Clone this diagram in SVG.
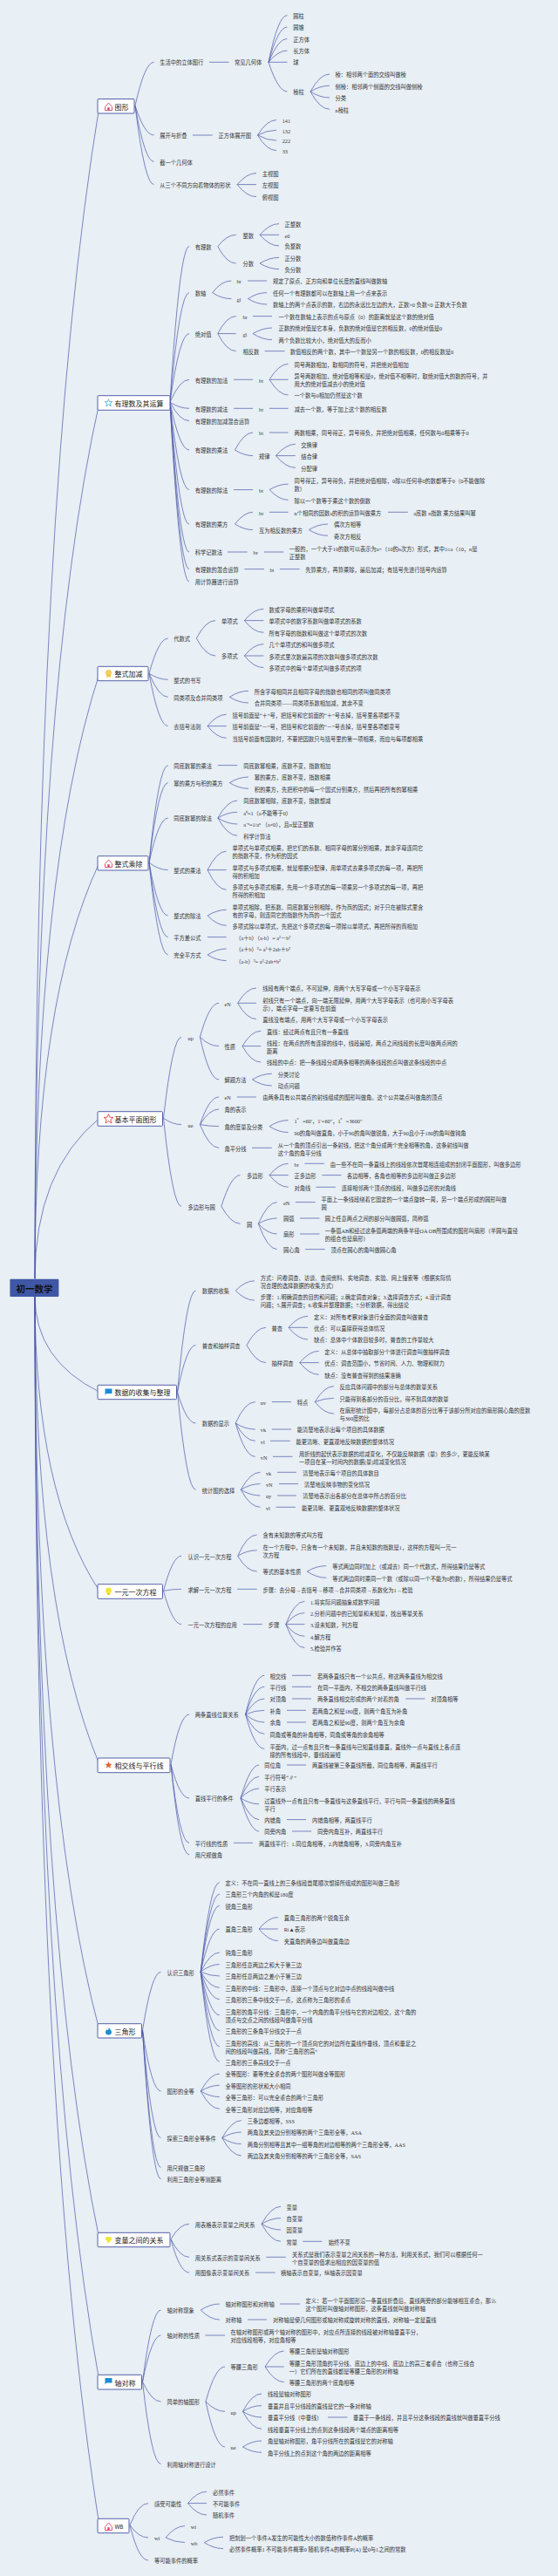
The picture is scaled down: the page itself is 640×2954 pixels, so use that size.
<svg xmlns="http://www.w3.org/2000/svg" width="640" height="2954" viewBox="0 0 640 2954">
<style>
text{font-family:"Liberation Serif","Noto Sans CJK SC",sans-serif;font-size:6.25px;fill:#333;dominant-baseline:central}
.c path{fill:none;stroke:#4a58a8;stroke-width:.7}
.b rect{fill:#fff;stroke:#5560a8;stroke-width:1}
.b text{font-family:"Noto Sans CJK SC",sans-serif;font-size:8px;fill:#222}
#root rect{fill:#3f57a5}
#root text{font-family:"Noto Sans CJK SC",sans-serif;font-size:10.5px;font-weight:700;fill:#111;text-anchor:middle}
</style>
<defs>
<g id="i-house"><path d="M-4 0.5L0-4 4 0.5V4.5H-4Z" fill="#fff" stroke="#d8456b" stroke-width=".9"/><rect x="-1.2" y="1.2" width="2.4" height="3.2" fill="#d8456b"/></g>
<g id="i-star"><polygon points="0,-4.2 1.2,-1.3 4.2,-1.3 1.8,.7 2.7,3.8 0,2 -2.7,3.8 -1.8,.7 -4.2,-1.3 -1.2,-1.3" fill="#fff" stroke="#3aa5d8" stroke-width=".8"/></g>
<g id="i-star2"><polygon points="0,-5.5 1.6,-1.7 5.5,-1.7 2.4,.9 3.5,5 0,2.6 -3.5,5 -2.4,.9 -5.5,-1.7 -1.6,-1.7" fill="#fff" stroke="#e0483e" stroke-width=".9"/></g>
<g id="i-star3"><polygon points="0,-4.2 1.2,-1.3 4.2,-1.3 1.8,.7 2.7,3.8 0,2 -2.7,3.8 -1.8,.7 -4.2,-1.3 -1.2,-1.3" fill="#e0622e"/></g>
<g id="i-ribbon"><path d="M-2 1L-2.5 4.5 0 3.2 2.5 4.5 2 1Z" fill="#f4c430"/><circle cy="-1" r="3" fill="#f8d060" stroke="#eeb020" stroke-width=".7"/></g>
<g id="i-flag"><path d="M-4-4H4V1.5H-2.5L-4 3.5Z" fill="#1a8cd8"/></g>
<g id="i-bulb"><circle cy="-1" r="3.4" fill="#f2e63a"/><rect x="-1.6" y="2" width="3.2" height="2" fill="#e0d030"/></g>
<g id="i-flame"><path d="M.5-4.5C1 -2 3.5-1 3.5 1.5 3.5 3.5 2 4.5 0 4.5-2 4.5-3.5 3.5-3.5 1.5-3.5 0-2.5-1-2-2-1.5-1 -1-.8-.5-1 0-2 .2-3 .5-4.5Z" fill="#1c8ed0"/></g>
<g id="i-gem"><polygon points="-2.5,-3.5 2.5,-3.5 4,-1 0,4 -4,-1" fill="#f2e63a"/></g>
</defs>
<rect id="bg" width="640" height="2954" fill="#e8eff5"/>
<g id="connectors" class="c" transform="translate(0 -.7)">
<path d="M40 1467Q40 570 114 122"/><path d="M40 1467Q40 794 114 462"/><path d="M40 1467Q40 1001 114 773"/><path d="M40 1467Q40 1147 114 990"/><path d="M40 1467Q40 1344 114 1283"/>
<path d="M40 1487Q40 1560 114 1597"/><path d="M40 1487Q40 1713 114 1825"/><path d="M40 1487Q40 1847 114 2024"/><path d="M40 1487Q40 2051 114 2329"/><path d="M40 1487Q40 2212 114 2569"/><path d="M40 1487Q40 2321 114 2732"/><path d="M40 1487Q40 2431 114 2897"/>
<path d="M155 122Q166 72 176.5 72"/><path d="M240 72H262.5"/><path d="M308 72Q319 18.3 329.4 18.3"/><path d="M308 72Q319 31.7 329.4 31.7"/><path d="M308 72Q319 45 329.4 45"/><path d="M308 72Q319 58.7 329.4 58.7"/><path d="M308 72H329.4"/><path d="M308 72Q319 105.7 329.4 105.7"/>
<path d="M356 105.7Q367 85.7 378 85.7"/><path d="M356 105.7Q367 99 378 99"/><path d="M356 105.7Q367 112.7 378 112.7"/><path d="M356 105.7Q367 126 378 126"/>
<path d="M155 122Q166 155.7 176.5 155.7"/><path d="M221 155.7H243.7"/><path d="M295.5 155.7Q306 138.3 317 138.3"/><path d="M295.5 155.7Q306 150 317 150"/><path d="M295.5 155.7Q306 161.7 317 161.7"/><path d="M295.5 155.7Q306 173.3 317 173.3"/>
<path d="M155 122Q166 186 176.5 186"/><path d="M155 122Q166 212.3 176.5 212.3"/><path d="M272 212.3Q283 199.3 294 199.3"/><path d="M272 212.3H294"/><path d="M272 212.3Q283 226.3 294 226.3"/>
<path d="M195 462Q206 283.3 217 283.3"/><path d="M249.8 283.3Q260 270 270.6 270"/><path d="M249.8 283.3Q260 302.7 270.6 302.7"/><path d="M298 270Q309 257.3 320 257.3"/><path d="M298 270H320"/><path d="M298 270Q309 282.7 320 282.7"/><path d="M298 302.7Q309 296 320 296"/><path d="M298 302.7Q309 309.3 320 309.3"/>
<path d="M195 462Q206 336.3 217 336.3"/><path d="M243.7 336.3Q254 322.7 265.3 322.7"/><path d="M243.7 336.3Q254 343.3 265.3 343.3"/><path d="M284 322.7H306"/><path d="M284.5 343.3Q295 336.3 306 336.3"/><path d="M284.5 343.3Q295 349.7 306 349.7"/>
<path d="M195 462Q206 383.3 217 383.3"/><path d="M249.8 383.3Q260 363.3 270.6 363.3"/><path d="M249.8 383.3H270.6"/><path d="M249.8 383.3Q260 403.3 270.6 403.3"/><path d="M290 363.3H312"/><path d="M290 383.3Q301 376.7 312 376.7"/><path d="M290 383.3Q301 390.3 312 390.3"/><path d="M303.7 403.3H326.5"/>
<path d="M195 462Q206 436 217 436"/><path d="M268 436H290"/><path d="M309 436Q320 418 330.6 418"/><path d="M309 436H330.6"/><path d="M309 436Q320 453.7 330.6 453.7"/>
<path d="M195 462Q206 469 217 469"/><path d="M268 469H290"/><path d="M309 469H330.6"/><path d="M195 462Q206 483.3 217 483.3"/>
<path d="M195 462Q206 516.7 217 516.7"/><path d="M269.4 516.7Q280 496.7 290 496.7"/><path d="M269.4 516.7Q280 523.3 290 523.3"/><path d="M309 496.7H330.6"/><path d="M316.3 523.3Q328 510 338.8 510"/><path d="M316.3 523.3H338.8"/><path d="M316.3 523.3Q328 537 338.8 537"/>
<path d="M195 462Q206 562.3 217 562.3"/><path d="M268 562.3H290"/><path d="M309 562.3Q320 555.8 330.6 555.8"/><path d="M309 562.3Q320 574 330.6 574"/>
<path d="M195 462Q206 601.7 217 601.7"/><path d="M269.4 601.7Q280 588 290 588"/><path d="M269.4 601.7Q280 608.3 290 608.3"/><path d="M309 588H330.6"/><path d="M445 588H467.8"/><path d="M354.3 608.3Q365 601.7 376 601.7"/><path d="M354.3 608.3Q365 615 376 615"/>
<path d="M195 462Q206 633.7 217 633.7"/><path d="M261 633.7H283.7"/><path d="M303 633.7H325.3"/><path d="M195 462Q206 653.3 217 653.3"/><path d="M280.4 653.3H303"/><path d="M320.8 653.3H343.7"/><path d="M195 462Q206 667.7 217 667.7"/>
<path d="M171 773Q182 732.7 192.7 732.7"/><path d="M225.3 732.7Q236 712.3 247 712.3"/><path d="M225.3 732.7Q236 752.7 247 752.7"/><path d="M280.4 712.3Q291 699 302.4 699"/><path d="M280.4 712.3H302.4"/><path d="M280.4 712.3Q291 726 302.4 726"/><path d="M280.4 752.7Q291 739.3 302.4 739.3"/><path d="M280.4 752.7H302.4"/><path d="M280.4 752.7Q291 766.3 302.4 766.3"/>
<path d="M171 773Q182 780 192.7 780"/><path d="M171 773Q182 800 192.7 800"/><path d="M263.3 800Q274 793 285 793"/><path d="M263.3 800Q274 806.7 285 806.7"/><path d="M171 773Q182 833.3 192.7 833.3"/><path d="M238 833.3Q249 820 259.6 820"/><path d="M238 833.3H259.6"/><path d="M238 833.3Q249 847 259.6 847"/>
<path d="M171 990Q182 878.3 192.7 878.3"/><path d="M249.8 878.3H272.2"/><path d="M171 990Q182 898.3 192.7 898.3"/><path d="M263.3 898.3Q274 891.7 285 891.7"/><path d="M263.3 898.3Q274 905 285 905"/>
<path d="M171 990Q182 938.7 192.7 938.7"/><path d="M249.8 938.7Q261 918.7 272.2 918.7"/><path d="M249.8 938.7Q261 932 272.2 932"/><path d="M249.8 938.7Q261 945.7 272.2 945.7"/><path d="M249.8 938.7Q261 959 272.2 959"/>
<path d="M171 990Q182 998.3 192.7 998.3"/><path d="M238 998.3Q249 976.8 259.6 976.8"/><path d="M238 998.3H259.6"/><path d="M238 998.3Q249 1021 259.6 1021"/>
<path d="M171 990Q182 1050.7 192.7 1050.7"/><path d="M238 1050.7Q249 1044 259.6 1044"/><path d="M238 1050.7Q249 1062 259.6 1062"/><path d="M171 990Q182 1075.3 192.7 1075.3"/><path d="M238 1075.3H259.6"/><path d="M171 990Q182 1095.7 192.7 1095.7"/><path d="M238 1095.7Q249 1088.7 259.6 1088.7"/><path d="M238 1095.7Q249 1102.3 259.6 1102.3"/>
<path d="M187.5 1283Q198 1190 208 1190"/><path d="M229.4 1190Q240 1151 251 1151"/><path d="M229.4 1190Q240 1200.3 251 1200.3"/><path d="M229.4 1190Q240 1238.7 251 1238.7"/>
<path d="M272.7 1151Q283 1133.7 293.9 1133.7"/><path d="M272.7 1151H293.9"/><path d="M272.7 1151Q283 1169.3 293.9 1169.3"/><path d="M278 1200.3Q288 1183 299.2 1183"/><path d="M278 1200.3H299.2"/><path d="M278 1200.3Q288 1218.7 299.2 1218.7"/><path d="M289.4 1238.7Q300 1232 311.8 1232"/><path d="M289.4 1238.7Q300 1245.7 311.8 1245.7"/>
<path d="M187.5 1283Q198 1290.3 208 1290.3"/><path d="M229.4 1290.3Q240 1258.7 251 1258.7"/><path d="M229.4 1290.3Q240 1272.7 251 1272.7"/><path d="M229.4 1290.3Q240 1292.3 251 1292.3"/><path d="M229.4 1290.3Q240 1317 251 1317"/><path d="M271.8 1258.7H293.9"/><path d="M309 1292.3Q320 1285.3 330.6 1285.3"/><path d="M309 1292.3Q320 1299.3 330.6 1299.3"/><path d="M289 1317H311.8"/>
<path d="M187.5 1283Q198 1384 208 1384"/><path d="M253.9 1384Q265 1348.3 275.5 1348.3"/><path d="M253.9 1384Q265 1404 275.5 1404"/><path d="M309 1348.3Q320 1335 330.6 1335"/><path d="M309 1348.3H330.6"/><path d="M309 1348.3Q320 1362 330.6 1362"/><path d="M349.4 1335H371.8"/><path d="M369.4 1348.3H391.4"/><path d="M362.4 1362H384.9"/>
<path d="M296.3 1404Q307 1379.3 317.6 1379.3"/><path d="M296.3 1404Q307 1397.7 317.6 1397.7"/><path d="M296.3 1404Q307 1415.7 317.6 1415.7"/><path d="M296.3 1404Q307 1433.3 317.6 1433.3"/><path d="M338.8 1379.3H361.6"/><path d="M344 1397.7H366.5"/><path d="M344 1415.7H366.5"/><path d="M350.2 1433.3H372.7"/>
<path d="M203.5 1597Q214 1480.7 224.5 1480.7"/><path d="M270.2 1480.7Q281 1469.5 291.8 1469.5"/><path d="M270.2 1480.7Q281 1491.8 291.8 1491.8"/>
<path d="M203.5 1597Q214 1543.3 224.5 1543.3"/><path d="M282.9 1543.3Q294 1523 304.9 1523"/><path d="M282.9 1543.3Q294 1563.3 304.9 1563.3"/><path d="M331 1523Q342 1510 353 1510"/><path d="M331 1523H353"/><path d="M331 1523Q342 1536.7 353 1536.7"/><path d="M343.7 1563.3Q355 1550 365.7 1550"/><path d="M343.7 1563.3H365.7"/><path d="M343.7 1563.3Q355 1577 365.7 1577"/>
<path d="M203.5 1597Q214 1632.7 224.5 1632.7"/><path d="M270.2 1632.7Q281 1608.3 292.7 1608.3"/><path d="M270.2 1632.7Q281 1639.7 292.7 1639.7"/><path d="M270.2 1632.7Q281 1653 292.7 1653"/><path d="M270.2 1632.7Q281 1671 292.7 1671"/><path d="M311.8 1608.3H333.9"/><path d="M361.2 1608.3Q372 1590.3 382.9 1590.3"/><path d="M361.2 1608.3Q372 1604 382.9 1604"/><path d="M361.2 1608.3Q372 1621.8 382.9 1621.8"/><path d="M311.8 1639.7H333.9"/><path d="M310 1653H332.7"/><path d="M313 1671H335.5"/>
<path d="M203.5 1597Q214 1709 224.5 1709"/><path d="M276.3 1709Q287 1689 298.4 1689"/><path d="M276.3 1709Q287 1702.3 298.4 1702.3"/><path d="M276.3 1709Q287 1715.7 298.4 1715.7"/><path d="M276.3 1709Q287 1729 298.4 1729"/><path d="M318 1689H340"/><path d="M320 1702.3H342"/><path d="M318 1715.7H340"/><path d="M316.7 1729H338.8"/>
<path d="M187.5 1825Q198 1785 208 1785"/><path d="M272.7 1785Q283 1760.7 294.7 1760.7"/><path d="M272.7 1785Q283 1778.5 294.7 1778.5"/><path d="M272.7 1785Q283 1802.7 294.7 1802.7"/><path d="M352.2 1802.7Q363 1796.3 374.3 1796.3"/><path d="M352.2 1802.7Q363 1810 374.3 1810"/>
<path d="M187.5 1825Q198 1823 208 1823"/><path d="M272.2 1823H294.7"/><path d="M187.5 1825Q198 1863.3 208 1863.3"/><path d="M278.8 1863.3H300.8"/><path d="M327.8 1863.3Q338 1837 349.4 1837"/><path d="M327.8 1863.3Q338 1850.3 349.4 1850.3"/><path d="M327.8 1863.3H349.4"/><path d="M327.8 1863.3Q338 1877 349.4 1877"/><path d="M327.8 1863.3Q338 1890.3 349.4 1890.3"/>
<path d="M196 2024Q206 1966.7 217 1966.7"/><path d="M281.6 1966.7Q292 1922 303.3 1922"/><path d="M281.6 1966.7Q292 1935 303.3 1935"/><path d="M281.6 1966.7Q292 1948.7 303.3 1948.7"/><path d="M281.6 1966.7Q292 1962 303.3 1962"/><path d="M281.6 1966.7Q292 1975.7 303.3 1975.7"/><path d="M281.6 1966.7Q292 1989 303.3 1989"/><path d="M281.6 1966.7Q292 2006 303.3 2006"/><path d="M335 1922H357"/><path d="M335 1935H357"/><path d="M335 1948.7H357"/><path d="M465.3 1948.7H487.3"/><path d="M329 1962H351"/><path d="M329 1975.7H351"/>
<path d="M196 2024Q206 2062.7 217 2062.7"/><path d="M276 2062.7Q287 2024.7 297 2024.7"/><path d="M276 2062.7Q287 2038 297 2038"/><path d="M276 2062.7Q287 2051.7 297 2051.7"/><path d="M276 2062.7Q287 2069.5 297 2069.5"/><path d="M276 2062.7Q287 2087.3 297 2087.3"/><path d="M276 2062.7Q287 2100.7 297 2100.7"/><path d="M329 2024.7H351"/><path d="M329 2087.3H351"/><path d="M335 2100.7H357"/>
<path d="M196 2024Q206 2114 217 2114"/><path d="M268 2114H290"/><path d="M196 2024Q206 2127.7 217 2127.7"/>
<path d="M163.5 2329Q174 2262 184.5 2262"/><path d="M230.2 2262Q241 2159.3 251.8 2159.3"/><path d="M230.2 2262Q241 2172.7 251.8 2172.7"/><path d="M230.2 2262Q241 2186 251.8 2186"/><path d="M230.2 2262Q241 2212.7 251.8 2212.7"/><path d="M230.2 2262Q241 2239.7 251.8 2239.7"/><path d="M230.2 2262Q241 2253.3 251.8 2253.3"/><path d="M230.2 2262Q241 2266.7 251.8 2266.7"/><path d="M230.2 2262Q241 2280 251.8 2280"/><path d="M230.2 2262Q241 2293.3 251.8 2293.3"/><path d="M230.2 2262Q241 2311.5 251.8 2311.5"/><path d="M230.2 2262Q241 2329.3 251.8 2329.3"/><path d="M230.2 2262Q241 2347.5 251.8 2347.5"/><path d="M230.2 2262Q241 2365 251.8 2365"/><path d="M297 2212.7Q308 2199.3 318.8 2199.3"/><path d="M297 2212.7H318.8"/><path d="M297 2212.7Q308 2226.3 318.8 2226.3"/>
<path d="M163.5 2329Q174 2398.7 184.5 2398.7"/><path d="M230.2 2398.7Q241 2378.7 251.8 2378.7"/><path d="M230.2 2398.7Q241 2392 251.8 2392"/><path d="M230.2 2398.7Q241 2405.3 251.8 2405.3"/><path d="M230.2 2398.7Q241 2419 251.8 2419"/>
<path d="M163.5 2329Q174 2452.3 184.5 2452.3"/><path d="M254.7 2452.3Q266 2432.3 276.7 2432.3"/><path d="M254.7 2452.3Q266 2445.7 276.7 2445.7"/><path d="M254.7 2452.3Q266 2459.3 276.7 2459.3"/><path d="M254.7 2452.3Q266 2472.7 276.7 2472.7"/><path d="M163.5 2329Q174 2486 184.5 2486"/><path d="M163.5 2329Q174 2499.3 184.5 2499.3"/>
<path d="M196 2568.5Q206 2551 217 2551"/><path d="M300 2551Q311 2531 322 2531"/><path d="M300 2551Q311 2544.3 322 2544.3"/><path d="M300 2551Q311 2557.7 322 2557.7"/><path d="M300 2551Q311 2571 322 2571"/><path d="M347.3 2571H369.4"/><path d="M196 2568.5Q206 2589 217 2589"/><path d="M305.3 2589H327.8"/><path d="M196 2568.5Q206 2606.7 217 2606.7"/><path d="M293 2606.7H315.5"/>
<path d="M163.5 2732Q174 2649.7 184.5 2649.7"/><path d="M230.2 2649.7Q241 2642.7 251.8 2642.7"/><path d="M230.2 2649.7Q241 2660.7 251.8 2660.7"/><path d="M321 2642.7H344"/><path d="M284 2660.7H306"/><path d="M163.5 2732Q174 2678.7 184.5 2678.7"/><path d="M235.5 2678.7H258"/>
<path d="M163.5 2732Q174 2754.7 184.5 2754.7"/><path d="M236 2754.7Q247 2714.7 258 2714.7"/><path d="M236 2754.7Q247 2766 258 2766"/><path d="M236 2754.7Q247 2806.7 258 2806.7"/><path d="M304 2714.7Q315 2696.7 325.7 2696.7"/><path d="M304 2714.7H325.7"/><path d="M304 2714.7Q315 2732.3 325.7 2732.3"/><path d="M278.4 2766Q289 2745.7 300 2745.7"/><path d="M278.4 2766Q289 2759.3 300 2759.3"/><path d="M278.4 2766Q289 2772.7 300 2772.7"/><path d="M278.4 2766Q289 2786 300 2786"/><path d="M376 2772.7H398.4"/><path d="M278.4 2806.7Q289 2799.7 300 2799.7"/><path d="M278.4 2806.7Q289 2813 300 2813"/><path d="M163.5 2732Q174 2826.3 184.5 2826.3"/>
<path d="M149 2896.5Q159 2871.3 170 2871.3"/><path d="M215.5 2871.3Q226 2858 237 2858"/><path d="M215.5 2871.3H237"/><path d="M215.5 2871.3Q226 2884.7 237 2884.7"/><path d="M149 2896.5Q159 2910.7 170 2910.7"/><path d="M190 2910.7Q201 2897.3 212 2897.3"/><path d="M190 2910.7Q201 2916.3 212 2916.3"/><path d="M234.3 2916.3Q245 2910 256 2910"/><path d="M234.3 2916.3Q245 2923.3 256 2923.3"/><path d="M149 2896.5Q159 2936.7 170 2936.7"/>
</g>
<g id="root"><rect x="11.4" y="1466.7" width="56" height="20.3" rx="1"/><text x="39.5" y="1477">初一数学</text></g>
<g id="b1" class="b"><rect x="112" y="113.5" width="42" height="16.5" rx="1"/><use href="#i-house" x="124.5" y="122"/><text x="131.4" y="122">图形</text></g>
<g id="b2" class="b"><rect x="112" y="453.7" width="83" height="16.6" rx="1"/><use href="#i-star" x="124.5" y="462"/><text x="131.4" y="462">有理数及其运算</text></g>
<g id="b3" class="b"><rect x="112" y="764.3" width="58" height="16.4" rx="1"/><use href="#i-ribbon" x="124.5" y="772.5"/><text x="131.4" y="772.7">整式加减</text></g>
<g id="b4" class="b"><rect x="112" y="981.7" width="58" height="16.3" rx="1"/><use href="#i-house" x="124.5" y="990"/><text x="131.4" y="990">整式乘除</text></g>
<g id="b5" class="b"><rect x="112" y="1274.7" width="74.5" height="16.6" rx="1"/><use href="#i-star2" x="124.5" y="1283"/><text x="131.4" y="1283">基本平面图形</text></g>
<g id="b6" class="b"><rect x="112" y="1588.3" width="90.5" height="16.4" rx="1"/><use href="#i-flag" x="124.5" y="1596.5"/><text x="131.4" y="1596.7">数据的收集与整理</text></g>
<g id="b7" class="b"><rect x="112" y="1816.7" width="74.5" height="16.6" rx="1"/><use href="#i-bulb" x="124.5" y="1825"/><text x="131.4" y="1825">一元一次方程</text></g>
<g id="b8" class="b"><rect x="112" y="2016" width="83" height="16.7" rx="1"/><use href="#i-star3" x="124.5" y="2024"/><text x="131.4" y="2024.5">相交线与平行线</text></g>
<g id="b9" class="b"><rect x="112" y="2320.7" width="50.5" height="16.3" rx="1"/><use href="#i-flame" x="124.5" y="2329"/><text x="131.4" y="2329">三角形</text></g>
<g id="b10" class="b"><rect x="112" y="2560.3" width="83" height="16.4" rx="1"/><use href="#i-gem" x="124.5" y="2568.5"/><text x="131.4" y="2568.7">变量之间的关系</text></g>
<g id="b11" class="b"><rect x="112" y="2723.3" width="50.5" height="16.7" rx="1"/><use href="#i-flag" x="124.5" y="2731"/><text x="131.4" y="2732">轴对称</text></g>
<g id="b12" class="b"><rect x="112" y="2888.3" width="36" height="16.4" rx="1"/><use href="#i-house" x="124.5" y="2897"/><text x="131.4" y="2896.5" style="font-size:6.5px">WB</text></g>
<g id="n1_1"><text x="183.3" y="71.7">生活中的立体图行</text></g>
<g id="n1_2"><text x="269" y="71.7">常见几何体</text></g>
<g id="n1_3"><text x="336.3" y="18.3">圆柱</text></g>
<g id="n1_4"><text x="336.3" y="31.7">圆锥</text></g>
<g id="n1_5"><text x="336.3" y="45">正方体</text></g>
<g id="n1_6"><text x="336.3" y="58.7">长方体</text></g>
<g id="n1_7"><text x="336.3" y="71.7">球</text></g>
<g id="n1_8"><text x="336.3" y="105.7">棱柱</text></g>
<g id="n1_9"><text x="384.5" y="85.7">棱：相邻两个面的交线叫做棱</text></g>
<g id="n1_10"><text x="384.5" y="99">侧棱：相邻两个侧面的交线叫做侧棱</text></g>
<g id="n1_11"><text x="384.5" y="112.7">分类</text></g>
<g id="n1_12"><text x="384.5" y="126">n棱柱</text></g>
<g id="n1_13"><text x="183.3" y="155.7">展开与折叠</text></g>
<g id="n1_14"><text x="250.6" y="155.7">正方体展开图</text></g>
<g id="n1_15"><text x="323.7" y="138.3">141</text></g>
<g id="n1_16"><text x="323.7" y="150">132</text></g>
<g id="n1_17"><text x="323.7" y="161.7">222</text></g>
<g id="n1_18"><text x="323.7" y="173.3">33</text></g>
<g id="n1_19"><text x="183.3" y="186">截一个几何体</text></g>
<g id="n1_20"><text x="183.3" y="212.3">从三个不同方向看物体的形状</text></g>
<g id="n1_21"><text x="300.8" y="199.3">主视图</text></g>
<g id="n1_22"><text x="300.8" y="212.7">左视图</text></g>
<g id="n1_23"><text x="300.8" y="226.3">俯视图</text></g>
<g id="n2_1"><text x="223.7" y="283.3">有理数</text></g>
<g id="n2_2"><text x="278.4" y="270">整数</text></g>
<g id="n2_3"><text x="326.5" y="257.3">正整数</text></g>
<g id="n2_4"><text x="326.5" y="270">e0</text></g>
<g id="n2_5"><text x="326.5" y="282.7">负整数</text></g>
<g id="n2_6"><text x="278.4" y="302.7">分数</text></g>
<g id="n2_7"><text x="326.5" y="296">正分数</text></g>
<g id="n2_8"><text x="326.5" y="309.3">负分数</text></g>
<g id="n2_9"><text x="223.7" y="336.3">数轴</text></g>
<g id="n2_10"><text x="271.4" y="322.7">br</text></g>
<g id="n2_11"><text x="313" y="322.7">规定了原点、正方向和单位长度的直线叫做数轴</text></g>
<g id="n2_12"><text x="271.4" y="343.3">gl</text></g>
<g id="n2_13"><text x="313" y="336.3">任何一个有理数都可以在数轴上用一个点来表示</text></g>
<g id="n2_14"><text x="313" y="349.7">数轴上的两个点表示的数，右边的永远比左边的大，正数&gt;0 负数&lt;0 正数大于负数</text></g>
<g id="n2_15"><text x="223.7" y="383.3">绝对值</text></g>
<g id="n2_16"><text x="278.4" y="363.3">br</text></g>
<g id="n2_17"><text x="319.6" y="363.3">一个数在数轴上表示的点与原点（0）的距离就是这个数的绝对值</text></g>
<g id="n2_18"><text x="278.4" y="383.3">gl</text></g>
<g id="n2_19"><text x="319.6" y="376.7">正数的绝对值是它本身，负数的绝对值是它的相反数，0的绝对值是0</text></g>
<g id="n2_20"><text x="319.6" y="390.3">两个负数比较大小，绝对值大的反而小</text></g>
<g id="n2_21"><text x="278.4" y="403.3">相反数</text></g>
<g id="n2_22"><text x="332.7" y="403.3">数值相反的两个数，其中一个数是另一个数的相反数，0的相反数是0</text></g>
<g id="n2_23"><text x="223.7" y="436">有理数的加法</text></g>
<g id="n2_24"><text x="297" y="436">bt</text></g>
<g id="n2_25"><text x="337.6" y="418">同号两数相加，取相同的符号，并把绝对值相加</text></g>
<g id="n2_26"><text><tspan x="337.6" y="431.3">异号两数相加，绝对值相等和是0，绝对值不相等时，取绝对值大的数的符号，并</tspan><tspan x="337.6" y="440.3">用大的绝对值减去小的绝对值</tspan></text></g>
<g id="n2_27"><text x="337.6" y="453.7">一个数与0相加仍然是这个数</text></g>
<g id="n2_28"><text x="223.7" y="469">有理数的减法</text></g>
<g id="n2_29"><text x="297" y="469">bt</text></g>
<g id="n2_30"><text x="337.6" y="469">减去一个数，等于加上这个数的相反数</text></g>
<g id="n2_31"><text x="223.7" y="483.3">有理数的加减混合运算</text></g>
<g id="n2_32"><text x="223.7" y="516.7">有理数的乘法</text></g>
<g id="n2_33"><text x="297" y="496.7">bt</text></g>
<g id="n2_34"><text x="337.6" y="496.7">两数相乘，同号得正，异号得负，并把绝对值相乘，任何数与0相乘等于0</text></g>
<g id="n2_35"><text x="297" y="523.3">规律</text></g>
<g id="n2_36"><text x="345.3" y="510">交换律</text></g>
<g id="n2_37"><text x="345.3" y="523.3">结合律</text></g>
<g id="n2_38"><text x="345.3" y="537">分配律</text></g>
<g id="n2_39"><text x="223.7" y="562.3">有理数的除法</text></g>
<g id="n2_40"><text x="297" y="562.3">bt</text></g>
<g id="n2_41"><text><tspan x="337.6" y="551.3">同号得正，异号得负，并把绝对值相除，0除以任何非0的数都等于0（0不能做除</tspan><tspan x="337.6" y="560.3">数）</tspan></text></g>
<g id="n2_42"><text x="337.6" y="574">除以一个数等于乘这个数的倒数</text></g>
<g id="n2_43"><text x="223.7" y="601.7">有理数的乘方</text></g>
<g id="n2_44"><text x="297" y="588">br</text></g>
<g id="n2_45"><text x="337.6" y="588">n个相同的因数a的积的运算叫做乘方</text></g>
<g id="n2_46"><text x="474.3" y="588">a底数 n指数 乘方结果叫幂</text></g>
<g id="n2_47"><text x="297" y="608.3">互为相反数的乘方</text></g>
<g id="n2_48"><text x="382.9" y="601.7">偶次方相等</text></g>
<g id="n2_49"><text x="382.9" y="615">奇次方相反</text></g>
<g id="n2_50"><text x="223.7" y="633.7">科学记数法</text></g>
<g id="n2_51"><text x="290.6" y="633.7">br</text></g>
<g id="n2_52"><text><tspan x="331.8" y="629.3">一般的，一个大于10的数可以表示为a×（10的n次方）形式，其中1≤a〈10，n是</tspan><tspan x="331.8" y="638.3">正整数</tspan></text></g>
<g id="n2_53"><text x="223.7" y="653.3">有理数的混合运算</text></g>
<g id="n2_54"><text x="309.4" y="653.3">bt</text></g>
<g id="n2_55"><text x="350.2" y="653.3">先算乘方，再算乘除，最后加减；有括号先进行括号内运算</text></g>
<g id="n2_56"><text x="223.7" y="667.7">用计算器进行运算</text></g>
<g id="n3_1"><text x="199.2" y="732.7">代数式</text></g>
<g id="n3_2"><text x="253.9" y="712.3">单项式</text></g>
<g id="n3_3"><text x="308.6" y="699">数或字母的乘积叫做单项式</text></g>
<g id="n3_4"><text x="308.6" y="712.7">单项式中的数字系数叫做单项式的系数</text></g>
<g id="n3_5"><text x="308.6" y="726">所有字母的指数和叫做这个单项式的次数</text></g>
<g id="n3_6"><text x="253.9" y="752.7">多项式</text></g>
<g id="n3_7"><text x="308.6" y="739.3">几个单项式的和叫做多项式</text></g>
<g id="n3_8"><text x="308.6" y="753">多项式里次数最高项的次数叫做多项式的次数</text></g>
<g id="n3_9"><text x="308.6" y="766.3">多项式中的每个单项式叫做多项式的项</text></g>
<g id="n3_10"><text x="199.2" y="780">整式的书写</text></g>
<g id="n3_11"><text x="199.2" y="800">同类项及合并同类项</text></g>
<g id="n3_12"><text x="291.8" y="793">所含字母相同并且相同字母的指数也相同的项叫做同类项</text></g>
<g id="n3_13"><text x="291.8" y="806.7">合并同类项——同类项系数相加减，其余不变</text></g>
<g id="n3_14"><text x="199.2" y="833.3">去括号法则</text></g>
<g id="n3_15"><text x="266.5" y="820">括号前面是“＋”号，把括号和它前面的“＋”号去掉，括号里各项都不变</text></g>
<g id="n3_16"><text x="266.5" y="833.3">括号前面是“－”号，把括号和它前面的“－”号去掉，括号里各项都变号</text></g>
<g id="n3_17"><text x="266.5" y="847">当括号前面有因数时，不要把因数只与括号里的第一项相乘，而应与每项都相乘</text></g>
<g id="n4_1"><text x="199.2" y="878.3">同底数幂的乘法</text></g>
<g id="n4_2"><text x="279.2" y="878.3">同底数幂相乘，底数不变，指数相加</text></g>
<g id="n4_3"><text x="199.2" y="898.3">幂的乘方与积的乘方</text></g>
<g id="n4_4"><text x="291.8" y="891.7">幂的乘方，底数不变，指数相乘</text></g>
<g id="n4_5"><text x="291.8" y="905">积的乘方，先把积中的每一个因式分别乘方，然后再把所有的幂相乘</text></g>
<g id="n4_6"><text x="199.2" y="938.7">同底数幂的除法</text></g>
<g id="n4_7"><text x="279.2" y="918.7">同底数幂相除，底数不变，指数想减</text></g>
<g id="n4_8"><text x="279.2" y="932">a⁰=1（a不能等于0）</text></g>
<g id="n4_9"><text x="279.2" y="945.7">a⁻ⁿ=1/aⁿ （a≠0），且n是正整数</text></g>
<g id="n4_10"><text x="279.2" y="959">科学计算法</text></g>
<g id="n4_11"><text x="199.2" y="998.3">整式的乘法</text></g>
<g id="n4_12"><text><tspan x="266.5" y="972.3">单项式与单项式相乘，把它们的系数、相同字母的幂分别相乘，其余字母连同它</tspan><tspan x="266.5" y="981.3">的指数不变，作为积的因式</tspan></text></g>
<g id="n4_13"><text><tspan x="266.5" y="995">单项式与多项式相乘，就是根据分配律，用单项式去乘多项式的每一项，再把所</tspan><tspan x="266.5" y="1004">得的积相加</tspan></text></g>
<g id="n4_14"><text><tspan x="266.5" y="1017">多项式与多项式相乘，先用一个多项式的每一项乘另一个多项式的每一项，再把</tspan><tspan x="266.5" y="1026">所得的积相加</tspan></text></g>
<g id="n4_15"><text x="199.2" y="1050.7">整式的除法</text></g>
<g id="n4_16"><text><tspan x="266.5" y="1039.7">单项式相除，把系数、同底数幂分别相除，作为商的因式；对于只在被除式里含</tspan><tspan x="266.5" y="1048.7">有的字母，则连同它的指数作为商的一个因式</tspan></text></g>
<g id="n4_17"><text x="266.5" y="1062">多项式除以单项式，先把这个多项式的每一项除以单项式，再把所得的商相加</text></g>
<g id="n4_18"><text x="199.2" y="1075.3">平方差公式</text></g>
<g id="n4_19"><text x="270.2" y="1075.3">（a＋b）（a-b）= a²－b²</text></g>
<g id="n4_20"><text x="199.2" y="1095.7">完全平方式</text></g>
<g id="n4_21"><text x="270.2" y="1088.7">（a＋b）²= a²＋2ab＋b²</text></g>
<g id="n4_22"><text x="270.2" y="1102.3">（a-b）²= a²-2ab+b²</text></g>
<g id="n5_1"><text x="215.5" y="1190">up</text></g>
<g id="n5_2"><text x="257.6" y="1151">eN</text></g>
<g id="n5_3"><text x="301.2" y="1133.7">线段有两个端点，不可延伸，用两个大写字母或一个小写字母表示</text></g>
<g id="n5_4"><text><tspan x="301.2" y="1147">射线只有一个端点，向一端无限延伸，用两个大写字母表示（也可用小写字母表</tspan><tspan x="301.2" y="1156">示），端点字母一定要写在前面</tspan></text></g>
<g id="n5_5"><text x="301.2" y="1169.3">直线没有端点，用两个大写字母或一个小写字母表示</text></g>
<g id="n5_6"><text x="257.6" y="1200.3">性质</text></g>
<g id="n5_7"><text x="306.1" y="1183">直线：经过两点有且只有一条直线</text></g>
<g id="n5_8"><text><tspan x="306.1" y="1196.3">线段：在两点的所有连接的线中，线段最短，两点之间线段的长度叫做两点间的</tspan><tspan x="306.1" y="1205.3">距离</tspan></text></g>
<g id="n5_9"><text x="306.1" y="1218.7">线段的中点：把一条线段分成两条相等的两条线段的点叫做这条线段的中点</text></g>
<g id="n5_10"><text x="257.6" y="1238.7">解题方法</text></g>
<g id="n5_11"><text x="318.8" y="1232">分类讨论</text></g>
<g id="n5_12"><text x="318.8" y="1245.7">动点问题</text></g>
<g id="n5_13"><text x="215.5" y="1290.3">ue</text></g>
<g id="n5_14"><text x="257.6" y="1258.7">eN</text></g>
<g id="n5_15"><text x="301.2" y="1258.7">由两条具有公共端点的射线组成的图形叫做角。这个公共端点叫做角的顶点</text></g>
<g id="n5_16"><text x="257.6" y="1272.7">角的表示</text></g>
<g id="n5_17"><text x="257.6" y="1292.3">角的度量及分类</text></g>
<g id="n5_18"><text x="337.6" y="1285.3">1゜=60′，1′=60″，1゜=3600″</text></g>
<g id="n5_19"><text x="337.6" y="1299.3">90的角叫做直角，小于90的角叫做锐角，大于90且小于180的角叫做钝角</text></g>
<g id="n5_20"><text x="257.6" y="1317">角平分线</text></g>
<g id="n5_21"><text><tspan x="318.8" y="1312.7">从一个角的顶点引出一条射线，把这个角分成两个完全相等的角，这条射线叫做</tspan><tspan x="318.8" y="1321.7">这个角的角平分线</tspan></text></g>
<g id="n5_22"><text x="215.5" y="1384">多边形与圆</text></g>
<g id="n5_23"><text x="282.9" y="1348.3">多边形</text></g>
<g id="n5_24"><text x="337.6" y="1335">br</text></g>
<g id="n5_25"><text x="378.8" y="1335">由一些不在同一条直线上的线段依次首尾相连组成的封闭平面图形，叫做多边形</text></g>
<g id="n5_26"><text x="337.6" y="1348.3">正多边形</text></g>
<g id="n5_27"><text x="398" y="1348.3">各边相等，各角也相等的多边形叫做正多边形</text></g>
<g id="n5_28"><text x="337.6" y="1362">对角线</text></g>
<g id="n5_29"><text x="391.8" y="1362">连接相邻两个顶点的线段，叫做多边形的对角线</text></g>
<g id="n5_30"><text x="282.9" y="1404">圆</text></g>
<g id="n5_31"><text x="324.9" y="1379.3">eN</text></g>
<g id="n5_32"><text><tspan x="368.6" y="1375.3">平面上一条线段绕着它固定的一个端点旋转一周，另一个端点形成的圆形叫做</tspan><tspan x="368.6" y="1384.3">圆</tspan></text></g>
<g id="n5_33"><text x="324.9" y="1397.7">圆弧</text></g>
<g id="n5_34"><text x="372.7" y="1397.7">圆上任意两点之间的部分叫做圆弧，简称弧</text></g>
<g id="n5_35"><text x="324.9" y="1415.7">扇形</text></g>
<g id="n5_36"><text><tspan x="372.7" y="1411.3">一条弧AB和经过这条弧两端的两条半径OA OB所围成的图形叫扇形（半圆与直径</tspan><tspan x="372.7" y="1420.3">的组合也是扇形）</tspan></text></g>
<g id="n5_37"><text x="324.9" y="1433.3">圆心角</text></g>
<g id="n5_38"><text x="379.6" y="1433.3">顶点在圆心的角叫做圆心角</text></g>
<g id="n6_1"><text x="231.8" y="1480.7">数据的收集</text></g>
<g id="n6_2"><text><tspan x="298.8" y="1465">方式：问卷调查、访谈、查阅资料、实地调查、实验、网上搜索等（根据实际情</tspan><tspan x="298.8" y="1474">况合理的选择数据的收集方式）</tspan></text></g>
<g id="n6_3"><text><tspan x="298.8" y="1487.3">步骤：1.明确调查的目的和问题；2.确定调查对象；3.选择调查方式；4.设计调查</tspan><tspan x="298.8" y="1496.3">问题；5.展开调查；6.收集并整理数据；7.分析数据，得出结论</tspan></text></g>
<g id="n6_4"><text x="231.8" y="1543.3">普查和抽样调查</text></g>
<g id="n6_5"><text x="311.4" y="1523">普查</text></g>
<g id="n6_6"><text x="360" y="1510">定义：对所有考察对象进行全面的调查叫做普查</text></g>
<g id="n6_7"><text x="360" y="1523.3">优点：可以直接获得总体情况</text></g>
<g id="n6_8"><text x="360" y="1536.7">缺点：总体中个体数目较多时，普查的工作量较大</text></g>
<g id="n6_9"><text x="311.4" y="1563.3">抽样调查</text></g>
<g id="n6_10"><text x="372.2" y="1550">定义：从总体中抽取部分个体进行调查叫做抽样调查</text></g>
<g id="n6_11"><text x="372.2" y="1563.3">优点：调查范围小，节省时间、人力、物理和财力</text></g>
<g id="n6_12"><text x="372.2" y="1577">缺点：没有普查得到的结果准确</text></g>
<g id="n6_13"><text x="231.8" y="1632.7">数据的显示</text></g>
<g id="n6_14"><text x="298.8" y="1608.3">uv</text></g>
<g id="n6_15"><text x="340.8" y="1608.3">特点</text></g>
<g id="n6_16"><text x="389.4" y="1590.3">反应具体问题中的部分与总体的数量关系</text></g>
<g id="n6_17"><text x="389.4" y="1604">只能得到各部分的百分比，得不到具体的数量</text></g>
<g id="n6_18"><text><tspan x="389.4" y="1617.3">在扇形统计图中，每部分占总体的百分比等于该部分所对应的扇形圆心角的度数</tspan><tspan x="389.4" y="1626.3">与360度的比</tspan></text></g>
<g id="n6_19"><text x="298.8" y="1639.7">vk</text></g>
<g id="n6_20"><text x="340.8" y="1639.7">能清楚地表示出每个项目的具体数据</text></g>
<g id="n6_21"><text x="298.8" y="1653">vl</text></g>
<g id="n6_22"><text x="339.6" y="1653">能更清晰、更直观地反映数据的整体情况</text></g>
<g id="n6_23"><text x="298.8" y="1671">vN</text></g>
<g id="n6_24"><text><tspan x="342.9" y="1666.7">用折线的起伏表示数据的增减变化，不仅能反映数据（量）的多少，更能反映某</tspan><tspan x="342.9" y="1675.7">一项目在某一时间内的数据(量)增减变化情况</tspan></text></g>
<g id="n6_25"><text x="231.8" y="1709">统计图的选择</text></g>
<g id="n6_26"><text x="304.9" y="1689">vk</text></g>
<g id="n6_27"><text x="347.3" y="1689">清楚地表示每个项目的具体数目</text></g>
<g id="n6_28"><text x="304.9" y="1702.3">vN</text></g>
<g id="n6_29"><text x="349" y="1702.3">清楚地反映事物的变化情况</text></g>
<g id="n6_30"><text x="304.9" y="1715.7">uy</text></g>
<g id="n6_31"><text x="347.3" y="1715.7">清楚地表示出各部分在总体中所占的百分比</text></g>
<g id="n6_32"><text x="304.9" y="1729">vl</text></g>
<g id="n6_33"><text x="346.1" y="1729">能更清晰、更直观地反映数据的整体状况</text></g>
<g id="n7_1"><text x="215.5" y="1785">认识一元一次方程</text></g>
<g id="n7_2"><text x="301.6" y="1760.7">含有未知数的等式叫方程</text></g>
<g id="n7_3"><text><tspan x="301.6" y="1774">在一个方程中，只含有一个未知数，并且未知数的指数是1，这样的方程叫一元一</tspan><tspan x="301.6" y="1783">次方程</tspan></text></g>
<g id="n7_4"><text x="301.6" y="1802.7">等式的基本性质</text></g>
<g id="n7_5"><text x="381.2" y="1796.3">等式两边同时加上（或减去）同一个代数式，所得结果仍是等式</text></g>
<g id="n7_6"><text x="381.2" y="1810">等式两边同时乘同一个数（或除以同一个不能为0的数），所得结果仍是等式</text></g>
<g id="n7_7"><text x="215.5" y="1823">求解一元一次方程</text></g>
<g id="n7_8"><text x="301.6" y="1823">步骤：去分母→去括号→移项→合并同类项→系数化为1→检验</text></g>
<g id="n7_9"><text x="215.5" y="1863.3">一元一次方程的应用</text></g>
<g id="n7_10"><text x="307.8" y="1863.3">步骤</text></g>
<g id="n7_11"><text x="355.9" y="1837">1.将实际问题抽象成数学问题</text></g>
<g id="n7_12"><text x="355.9" y="1850.3">2.分析问题中的已知量和未知量，找出等量关系</text></g>
<g id="n7_13"><text x="355.9" y="1863.7">3.设未知数，列方程</text></g>
<g id="n7_14"><text x="355.9" y="1877">4.解方程</text></g>
<g id="n7_15"><text x="355.9" y="1890.3">5.检验并作答</text></g>
<g id="n8_1"><text x="223.7" y="1966.7">两条直线位置关系</text></g>
<g id="n8_2"><text x="309.4" y="1922">相交线</text></g>
<g id="n8_3"><text x="364" y="1922">若两条直线只有一个公共点，称这两条直线为相交线</text></g>
<g id="n8_4"><text x="309.4" y="1935">平行线</text></g>
<g id="n8_5"><text x="364" y="1935">在同一平面内，不相交的两条直线叫做平行线</text></g>
<g id="n8_6"><text x="309.4" y="1948.7">对顶角</text></g>
<g id="n8_7"><text x="364" y="1948.7">两条直线相交形成的两个对着的角</text></g>
<g id="n8_8"><text x="494.3" y="1948.7">对顶角相等</text></g>
<g id="n8_9"><text x="309.4" y="1962">补角</text></g>
<g id="n8_10"><text x="358" y="1962">若两角之和是180度，则两个角互为补角</text></g>
<g id="n8_11"><text x="309.4" y="1975.7">余角</text></g>
<g id="n8_12"><text x="358" y="1975.7">若两角之和是90度，则两个角互为余角</text></g>
<g id="n8_13"><text x="309.4" y="1989">同角或等角的补角相等，同角或等角的余角相等</text></g>
<g id="n8_14"><text><tspan x="309.4" y="2002.7">平面内，过一点有且只有一条直线与已知直线垂直，直线外一点与直线上各点连</tspan><tspan x="309.4" y="2011.7">接的所有线段中，垂线段最短</tspan></text></g>
<g id="n8_15"><text x="223.7" y="2062.7">直线平行的条件</text></g>
<g id="n8_16"><text x="303.3" y="2024.7">同位角</text></g>
<g id="n8_17"><text x="358" y="2024.7">两直线被第三条直线所截，同位角相等，两直线平行</text></g>
<g id="n8_18"><text x="303.3" y="2038">平行符号“∥”</text></g>
<g id="n8_19"><text x="303.3" y="2051.7">平行表示</text></g>
<g id="n8_20"><text><tspan x="303.3" y="2065">过直线外一点有且只有一条直线与这条直线平行，平行与同一条直线的两条直线</tspan><tspan x="303.3" y="2074">平行</tspan></text></g>
<g id="n8_21"><text x="303.3" y="2087.3">内错角</text></g>
<g id="n8_22"><text x="358" y="2087.3">内错角相等，两直线平行</text></g>
<g id="n8_23"><text x="303.3" y="2100.7">同旁内角</text></g>
<g id="n8_24"><text x="364" y="2100.7">同旁内角互补，两直线平行</text></g>
<g id="n8_25"><text x="223.7" y="2114">平行线的性质</text></g>
<g id="n8_26"><text x="297" y="2114">两直线平行：1.同位角相等，2.内错角相等，3.同旁内角互补</text></g>
<g id="n8_27"><text x="223.7" y="2127.7">用尺规做角</text></g>
<g id="n9_1"><text x="191.4" y="2262">认识三角形</text></g>
<g id="n9_2"><text x="258.4" y="2159.3">定义：不在同一直线上的三条线段首尾顺次想接所组成的图形叫做三角形</text></g>
<g id="n9_3"><text x="258.4" y="2172.7">三角形三个内角的和是180度</text></g>
<g id="n9_4"><text x="258.4" y="2186">锐角三角形</text></g>
<g id="n9_5"><text x="258.4" y="2212.7">直角三角形</text></g>
<g id="n9_6"><text x="325.7" y="2199.3">直角三角形的两个锐角互余</text></g>
<g id="n9_7"><text x="325.7" y="2212.7">Rt▲表示</text></g>
<g id="n9_8"><text x="325.7" y="2226.3">夹直角的两条边叫做直角边</text></g>
<g id="n9_9"><text x="258.4" y="2239.7">钝角三角形</text></g>
<g id="n9_10"><text x="258.4" y="2253.3">三角形任意两边之和大于第三边</text></g>
<g id="n9_11"><text x="258.4" y="2266.7">三角形任意两边之差小于第三边</text></g>
<g id="n9_12"><text x="258.4" y="2280">三角形的中线：三角形中，连接一个顶点与它对边中点的线段叫做中线</text></g>
<g id="n9_13"><text x="258.4" y="2293.3">三角形的三条中线交于一点，这点称为三角形的重点</text></g>
<g id="n9_14"><text><tspan x="258.4" y="2307">三角形的角平分线：三角形中，一个内角的角平分线与它的对边相交，这个角的</tspan><tspan x="258.4" y="2316">顶点与交点之间的线段叫做角平分线</tspan></text></g>
<g id="n9_15"><text x="258.4" y="2329.3">三角形的三条角平分线交于一点</text></g>
<g id="n9_16"><text><tspan x="258.4" y="2343">三角形的高线：从三角形的一个顶点向它的对边所在直线作垂线，顶点和垂足之</tspan><tspan x="258.4" y="2352">间的线段叫做高线，简称“三角形的高”</tspan></text></g>
<g id="n9_17"><text x="258.4" y="2365">三角形的三条高线交于一点</text></g>
<g id="n9_18"><text x="191.4" y="2398.7">图形的全等</text></g>
<g id="n9_19"><text x="258.4" y="2378.7">全等图形：要等完全重合的两个图形叫做全等图形</text></g>
<g id="n9_20"><text x="258.4" y="2392">全等图形的形状和大小相同</text></g>
<g id="n9_21"><text x="258.4" y="2405.3">全等三角形：可以完全重合的两个三角形</text></g>
<g id="n9_22"><text x="258.4" y="2419">全等三角形对应边相等，对应角相等</text></g>
<g id="n9_23"><text x="191.4" y="2452.3">探索三角形全等条件</text></g>
<g id="n9_24"><text x="283.7" y="2432.3">三条边都相等，SSS</text></g>
<g id="n9_25"><text x="283.7" y="2445.7">两角及其夹边分别相等的两个三角形全等，ASA</text></g>
<g id="n9_26"><text x="283.7" y="2459.3">两角分别相等且其中一组等角的对边相等的两个三角形全等，AAS</text></g>
<g id="n9_27"><text x="283.7" y="2472.7">两边及其夹角分别相等的两个三角形全等，SAS</text></g>
<g id="n9_28"><text x="191.4" y="2486">用尺规做三角形</text></g>
<g id="n9_29"><text x="191.4" y="2499.3">利用三角形全等测距离</text></g>
<g id="n10_1"><text x="223.7" y="2551">用表格表示变量之间关系</text></g>
<g id="n10_2"><text x="328.6" y="2531">变量</text></g>
<g id="n10_3"><text x="328.6" y="2544.3">自变量</text></g>
<g id="n10_4"><text x="328.6" y="2557.7">因变量</text></g>
<g id="n10_5"><text x="328.6" y="2571">常量</text></g>
<g id="n10_6"><text x="376.7" y="2571">始终不变</text></g>
<g id="n10_7"><text x="223.7" y="2589">用关系式表示的变量间关系</text></g>
<g id="n10_8"><text><tspan x="335.1" y="2584.7">关系式是我们表示变量之间关系的一种方法，利用关系式，我们可以根据任何一</tspan><tspan x="335.1" y="2593.7">个自变量的值求出相应的因变量的值</tspan></text></g>
<g id="n10_9"><text x="223.7" y="2606.7">用图像表示变量间关系</text></g>
<g id="n10_10"><text x="322" y="2606.7">横轴表示自变量，纵轴表示因变量</text></g>
<g id="n11_1"><text x="191.4" y="2649.7">轴对称现象</text></g>
<g id="n11_2"><text x="258.4" y="2642.7">轴对称图形和对称轴</text></g>
<g id="n11_3"><text><tspan x="350.6" y="2638.3">定义：若一个平面图形沿一条直线折叠后，直线两旁的部分能够相互重合，那么</tspan><tspan x="350.6" y="2647.3">这个图形叫做轴对称图形，这条直线就叫做对称轴</tspan></text></g>
<g id="n11_4"><text x="258.4" y="2660.7">对称轴</text></g>
<g id="n11_5"><text x="313" y="2660.7">对称轴是使几何图形或轴对称成旋转对称的直线，对称轴一定是直线</text></g>
<g id="n11_6"><text x="191.4" y="2678.7">轴对称的性质</text></g>
<g id="n11_7"><text><tspan x="264.5" y="2674">在轴对称图形或两个轴对称的图形中，对应点所连接的线段被对称轴垂直平分，</tspan><tspan x="264.5" y="2683">对应线段相等，对应角相等</tspan></text></g>
<g id="n11_8"><text x="191.4" y="2754.7">简单的轴图形</text></g>
<g id="n11_9"><text x="264.5" y="2714.7">等腰三角形</text></g>
<g id="n11_10"><text x="331.8" y="2696.7">等腰三角形是轴对称图形</text></g>
<g id="n11_11"><text><tspan x="331.8" y="2710">等腰三角形顶角的平分线、底边上的中线、底边上的高三者重合（也称三线合</tspan><tspan x="331.8" y="2719">一）它们所在的直线都是等腰三角形的对称轴</tspan></text></g>
<g id="n11_12"><text x="331.8" y="2732.3">等腰三角形的两个底角相等</text></g>
<g id="n11_13"><text x="264.5" y="2766">up</text></g>
<g id="n11_14"><text x="307" y="2745.7">线段是轴对称图形</text></g>
<g id="n11_15"><text x="307" y="2759.3">垂直并且平分线段的直线是它的一条对称轴</text></g>
<g id="n11_16"><text x="307" y="2772.7">垂直平分线（中垂线）</text></g>
<g id="n11_17"><text x="404.9" y="2772.7">垂直于一条线段，并且平分这条线段的直线就叫做垂直平分线</text></g>
<g id="n11_18"><text x="307" y="2786">线段垂直平分线上的点到这条线段两个端点的距离相等</text></g>
<g id="n11_19"><text x="264.5" y="2806.7">ue</text></g>
<g id="n11_20"><text x="307" y="2799.7">角是轴对称图形，角平分线所在的直线是它的对称轴</text></g>
<g id="n11_21"><text x="307" y="2813">角平分线上的点到这个角的两边的距离相等</text></g>
<g id="n11_22"><text x="191.4" y="2826.3">利用轴对称进行设计</text></g>
<g id="n12_1"><text x="177.1" y="2871.3">感受可能性</text></g>
<g id="n12_2"><text x="244" y="2858">必然事件</text></g>
<g id="n12_3"><text x="244" y="2871.3">不可能事件</text></g>
<g id="n12_4"><text x="244" y="2884.7">随机事件</text></g>
<g id="n12_5"><text x="177.1" y="2910.7">wi</text></g>
<g id="n12_6"><text x="218.8" y="2897.3">wi</text></g>
<g id="n12_7"><text x="218.8" y="2916.3">wb</text></g>
<g id="n12_8"><text x="262.9" y="2910">把刻划一个事件A发生的可能性大小的数值称作事件A的概率</text></g>
<g id="n12_9"><text x="262.9" y="2923.3">必然事件概率1 不可能事件概率0 随机事件A的概率P(A) 是0与1之间的常数</text></g>
<g id="n12_10"><text x="177.1" y="2936.7">等可能事件的概率</text></g>
</svg>
